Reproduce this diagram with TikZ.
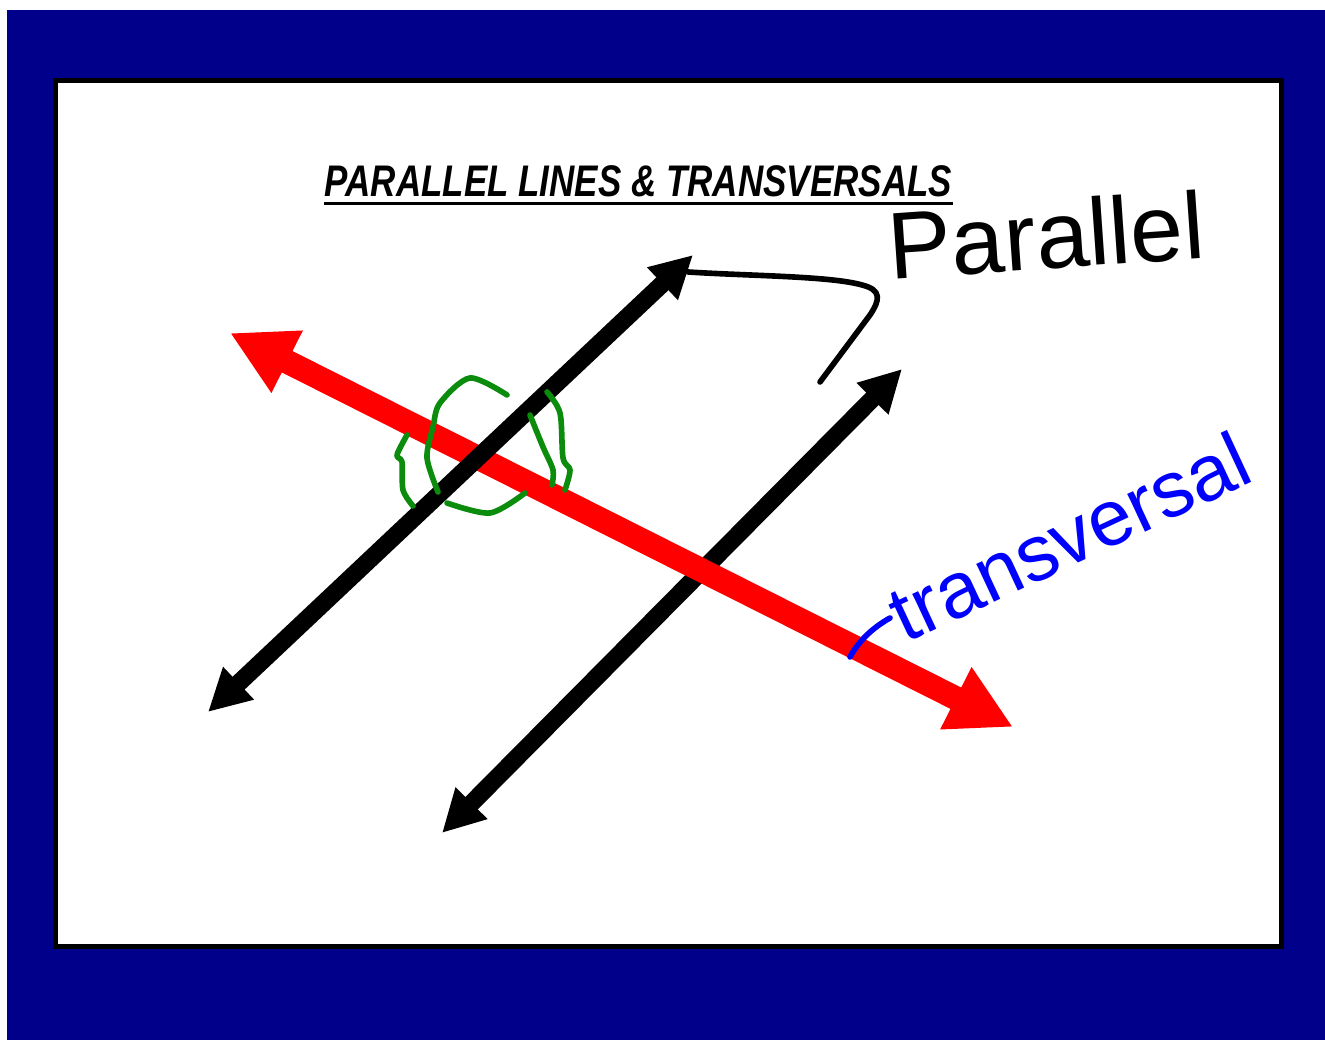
\documentclass[tikz,border=0pt]{standalone}
\usepackage{fontspec}
\setmainfont{Liberation Sans}
\usetikzlibrary{arrows.meta,calc}
\definecolor{navy}{RGB}{0,0,139}
\definecolor{penred}{RGB}{255,0,0}
\definecolor{penblue}{RGB}{0,0,255}
\definecolor{pengreen}{RGB}{12,140,12}

\begin{document}
\begin{tikzpicture}[x=1cm,y=1cm,
    parline/.style={line width=5pt,
      {Triangle[length=0.42cm,width=0.42cm]}-{Triangle[length=0.42cm,width=0.42cm]}},
    transline/.style={penred,line width=6.8pt,
      {Triangle[length=0.64cm,width=0.65cm]}-{Triangle[length=0.64cm,width=0.65cm]}},
    scribble/.style={pengreen,line width=1.6pt,line cap=round,line join=round},
    handtext/.style={inner sep=0pt,anchor=base west}]
    \useasboundingbox (0,0) rectangle (13.25,10.40);
    \fill[white] (0,0) rectangle (13.25,10.40);
    \fill[navy] (0.07,0) rectangle (13.25,10.30);
    \draw[line width=0.05cm,fill=white] (0.555,0.935) rectangle (12.81,9.595);
    % title
    \node[font=\fontsize{12.6}{15}\selectfont\bfseries\itshape,inner sep=0pt,anchor=base]
      (title) at (6.385,8.43) {\scalebox{0.79}[1]{PARALLEL LINES \& TRANSVERSALS}};
    \draw[line width=0.7pt] ($(title.base west)+(0,-0.065)$)--($(title.base east)+(0,-0.065)$);
    % end points
    \coordinate (a1) at (2.08,3.28);
    \coordinate (b1) at (6.93,7.85);
    \coordinate (a2) at (4.42,2.07);
    \coordinate (b2) at (9.02,6.71);
    \coordinate (r1) at (2.30,7.07);
    \coordinate (r2) at (10.13,3.13);
    \draw[parline] (a2)--(b2);
    \draw[transline] (r1)--(r2);
    \draw[parline] (a1)--(b1);
    % green scribble round the crossing
    \draw[scribble] plot[smooth] coordinates {(4.07,6.05)(3.97,5.85)(4.02,5.78)(4.03,5.50)(4.13,5.34)};
    \draw[scribble] plot[smooth] coordinates {(5.07,6.45)(4.70,6.62)(4.40,6.37)(4.33,6.13)(4.27,5.82)(4.38,5.48)};
    \draw[scribble] plot[smooth] coordinates {(4.47,5.37)(4.90,5.27)(5.25,5.47)};
    \draw[scribble] plot[smooth] coordinates {(5.30,6.25)(5.43,5.93)(5.53,5.70)(5.52,5.55)};
    \draw[scribble] plot[smooth] coordinates {(5.47,6.48)(5.60,6.27)(5.63,5.82)(5.70,5.70)(5.65,5.50)};
    % labels
    \node[handtext,rotate=4,font=\fontsize{27}{30}\selectfont] (par) at (8.90,7.60) {Parallel};
    \node[handtext,rotate=25,text=penblue,font=\fontsize{22.5}{26}\selectfont] (trans) at (9.05,3.96) {transversal};
    % bracket and pointer
    \coordinate (bs) at (6.88,7.68);
    \coordinate (be) at (8.20,6.58);
    \draw[line width=1.6pt,line cap=round] (bs) .. controls (7.5,7.64) and (8.3,7.64) .. (8.62,7.55)
      .. controls (8.82,7.50) and (8.80,7.40) .. (8.70,7.25) -- (be);
    \coordinate (ps) at (8.50,3.83);
    \coordinate (pe) at (8.90,4.22);
    \draw[penblue,line width=1.6pt,line cap=round] (ps) .. controls (8.58,3.98) and (8.72,4.12) .. (pe);
  \end{tikzpicture}
\end{document}
